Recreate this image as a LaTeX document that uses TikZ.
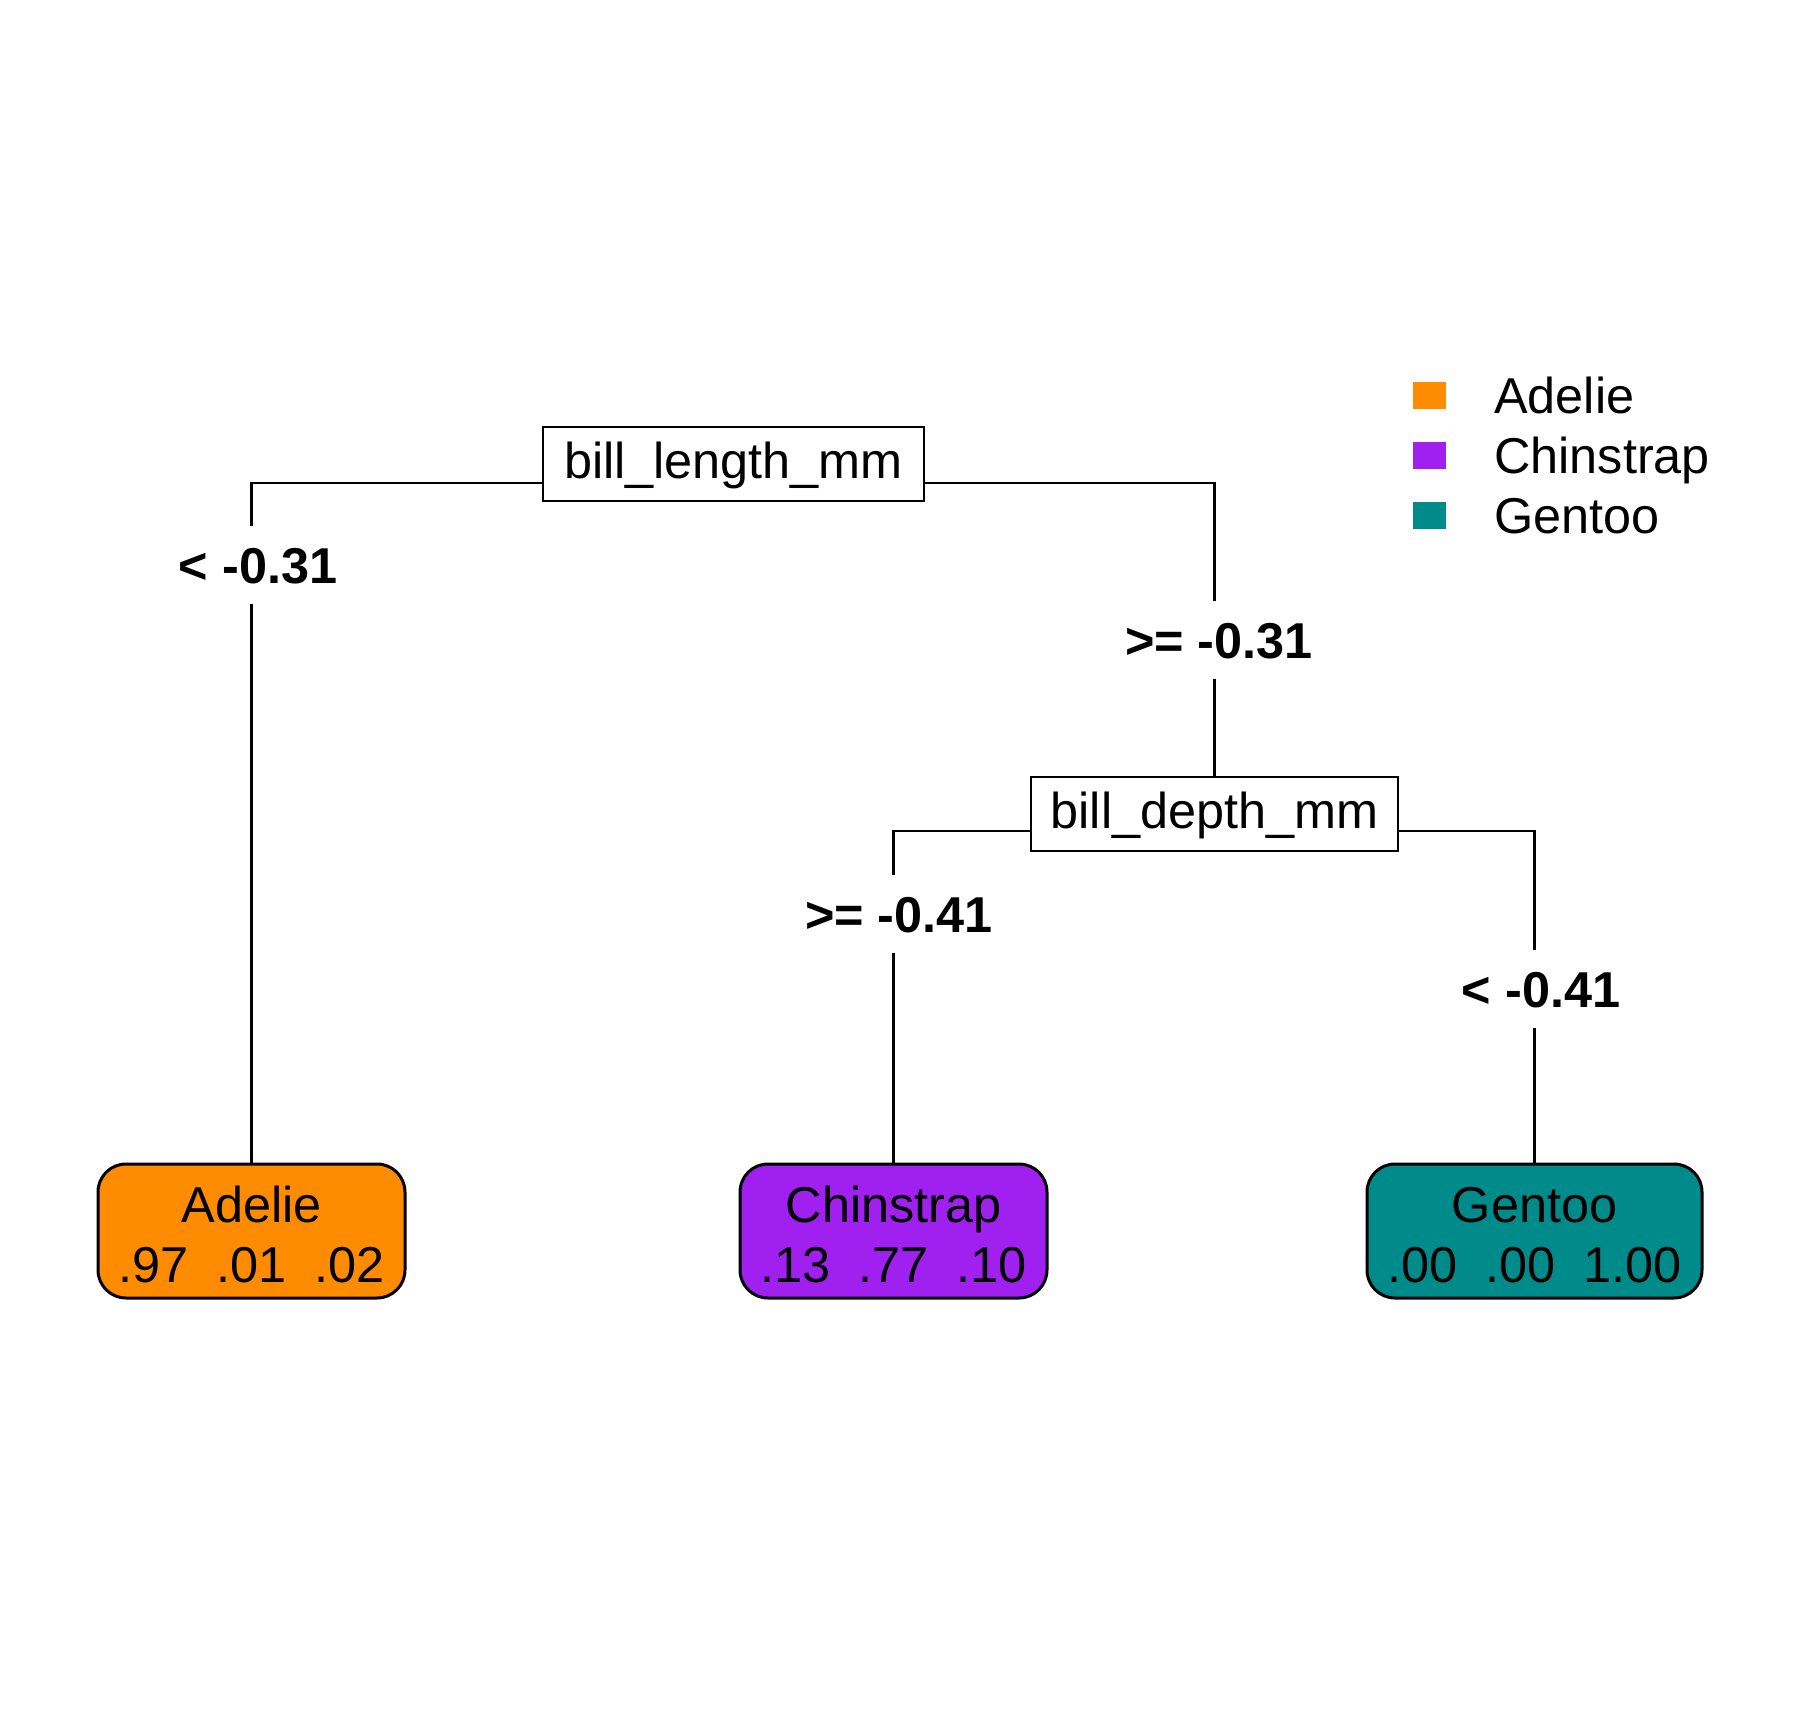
\documentclass[tikz,border=0pt]{standalone}
\usepackage{fontspec}
\setmainfont{Liberation Sans}
\definecolor{cAdelie}{HTML}{FF8C00}
\definecolor{cChin}{HTML}{A020F0}
\definecolor{cGen}{HTML}{008B8B}
\newcommand{\toprule}{\rule{0pt}{10.7pt}}
\begin{document}
\begin{tikzpicture}[x=0.25pt,y=-0.25pt, line width=0.65pt,
  txt/.style={font=\fontsize{12.6}{15}\selectfont},
  splitbox/.style={draw, fill=white, txt, minimum height=18.5pt, inner sep=0pt, text height=9.4pt, text depth=2.4pt},
  leafbox/.style={draw, rounded corners=7pt, txt, align=center, minimum height=33.5pt, inner sep=0pt, line width=0.75pt},
  cond/.style={fill=white, font=\fontsize{12.6}{15}\selectfont\bfseries, text height=9pt, text depth=0pt, inner xsep=2pt, inner ysep=5.3pt, anchor=base},
  key/.style={minimum width=8.25pt, minimum height=6.75pt, inner sep=0pt},
  keytxt/.style={txt, anchor=base west, inner sep=0pt}]
\useasboundingbox[fill=white] (0,0) rectangle (1800,1725);
% split nodes
\node[splitbox, minimum width=95.25pt] (root) at (733.5,464) {bill\_length\_mm};
\node[splitbox, minimum width=91.75pt] (depth) at (1214.5,814) {bill\_depth\_mm};
% leaves
\node[leafbox, fill=cAdelie, minimum width=76.75pt] (lA) at (251.5,1231) {\toprule Adelie\\.97\ \ .01\ \ .02};
\node[leafbox, fill=cChin, minimum width=76.75pt] (lC) at (893.5,1231) {\toprule Chinstrap\\.13\ \ .77\ \ .10};
\node[leafbox, fill=cGen, minimum width=83.75pt] (lG) at (1534.5,1231) {\toprule Gentoo\\.00\ \ .00\ \ 1.00};
% branches
\draw ([yshift=-4.75pt]root.west) -| (lA.north);
\draw ([yshift=-4.75pt]root.east) -| (depth.north);
\draw ([yshift=-4.25pt]depth.west) -| (lC.north);
\draw ([yshift=-4.25pt]depth.east) -| (lG.north);
% conditions
\node[cond] (c1) at (258,583) {< -0.31};
\node[cond] (c2) at (1219,658) {>= -0.31};
\node[cond] (c3) at (899,932) {>= -0.41};
\node[cond] (c4) at (1541,1007) {< -0.41};
% legend
\node[key, fill=cAdelie] (k1) at (1429.5,395.5) {};
\node[key, fill=cChin] (k2) at (1429.5,455.5) {};
\node[key, fill=cGen] (k3) at (1429.5,515.5) {};
\node[keytxt] (t1) at (1493,413) {Adelie};
\node[keytxt] (t2) at (1493,473) {Chinstrap};
\node[keytxt] (t3) at (1493,533) {Gentoo};
\end{tikzpicture}
\end{document}
